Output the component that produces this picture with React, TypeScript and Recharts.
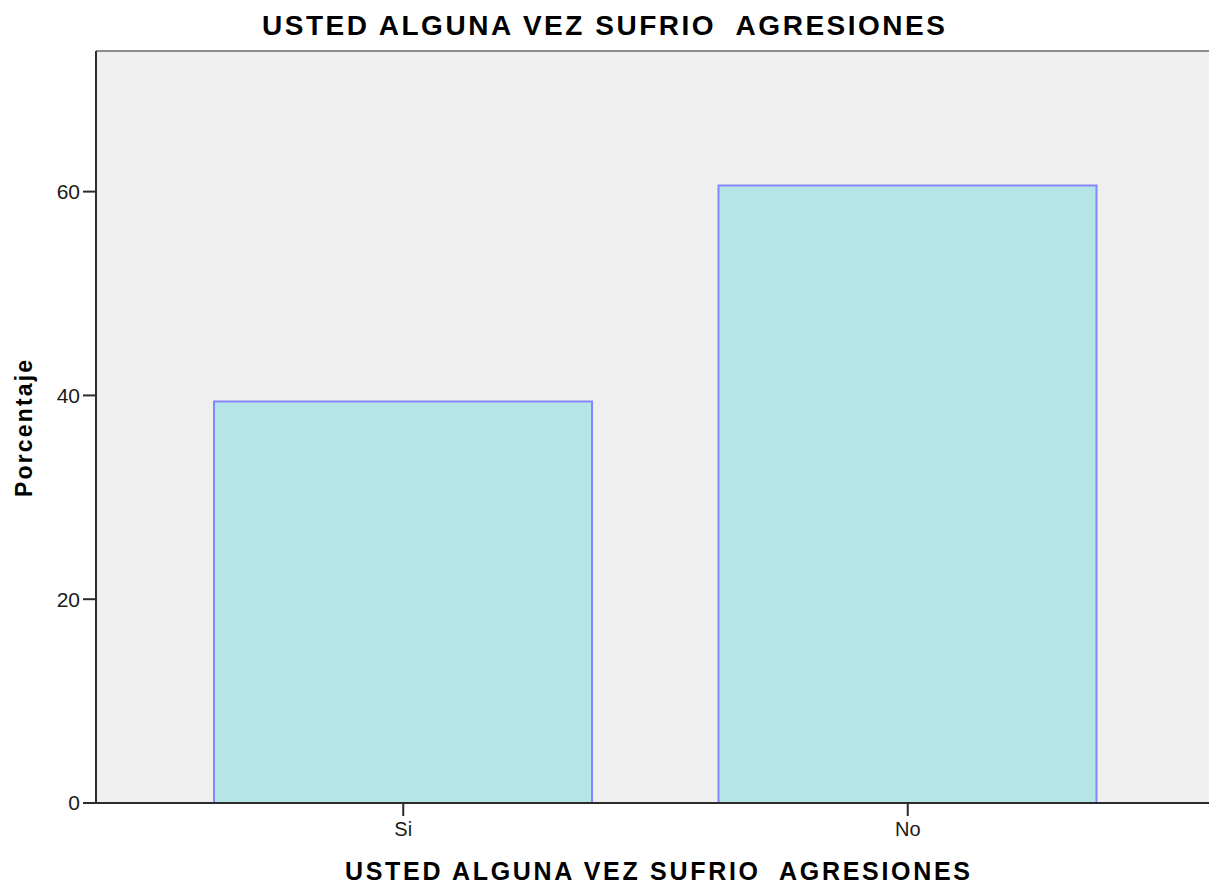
import { BarChart, Bar, XAxis, YAxis, CartesianGrid, ReferenceLine } from "recharts";

const categories = ["Si", "No"];
const porcentaje = [39.4, 60.6];
const yTicks = [0, 20, 40, 60];

const titulo = "USTED ALGUNA VEZ SUFRIO  AGRESIONES";
const ejeX = "USTED ALGUNA VEZ SUFRIO  AGRESIONES";
const ejeY = "Porcentaje";

const data = categories.map((c, i) => ({ name: c, value: porcentaje[i] }));

const W = 1209;
const H = 884;
const font = "'Liberation Sans', Arial, sans-serif";

export default function App() {
  return (
    <div style={{ position: "absolute", left: 0, top: 0, width: W, height: H, background: "#fff" }}>
      <BarChart
        width={W}
        height={H}
        data={data}
        margin={{ top: 51, right: 0, bottom: 0, left: 0 }}
        style={{ fontFamily: font }}
      >
        <CartesianGrid fill="#EFEFEF" horizontal={false} vertical={false} />
        <ReferenceLine y={73.8} stroke="#8c8c8c" strokeWidth={2} />
        <XAxis
          dataKey="name"
          height={81}
          padding={{ left: 55, right: 49 }}
          tickSize={13}
          tickMargin={6}
          stroke="#2b2b2b"
          strokeWidth={2}
          tick={{ fill: "#1a1a1a", fontSize: 20 }}
        />
        <YAxis
          width={96}
          domain={[0, 73.8]}
          ticks={yTicks}
          tickSize={13}
          tickMargin={3}
          stroke="#2b2b2b"
          strokeWidth={2}
          tick={{ fill: "#1a1a1a", fontSize: 21 }}
        />
        <Bar
          dataKey="value"
          barSize={378}
          fill="#B4E5E7"
          stroke="#8585ff"
          strokeWidth={2}
          isAnimationActive={false}
        />
      </BarChart>
      <svg
        width={W}
        height={H}
        style={{ position: "absolute", left: 0, top: 0, pointerEvents: "none" }}
      >
        <text x={262} y={35} fontFamily={font} fontWeight="bold" fontSize={28} fill="#000"
          textLength={683} lengthAdjust="spacing" xmlSpace="preserve" style={{ whiteSpace: "pre" }}>
          {titulo}
        </text>
        <text x={345} y={880} fontFamily={font} fontWeight="bold" fontSize={25} fill="#000"
          textLength={625} lengthAdjust="spacing" xmlSpace="preserve" style={{ whiteSpace: "pre" }}>
          {ejeX}
        </text>
        <text x={0} y={0} transform="translate(32,497) rotate(-90)" fontFamily={font}
          fontWeight="bold" fontSize={23} fill="#000" textLength={137} lengthAdjust="spacing">
          {ejeY}
        </text>
      </svg>
    </div>
  );
}
